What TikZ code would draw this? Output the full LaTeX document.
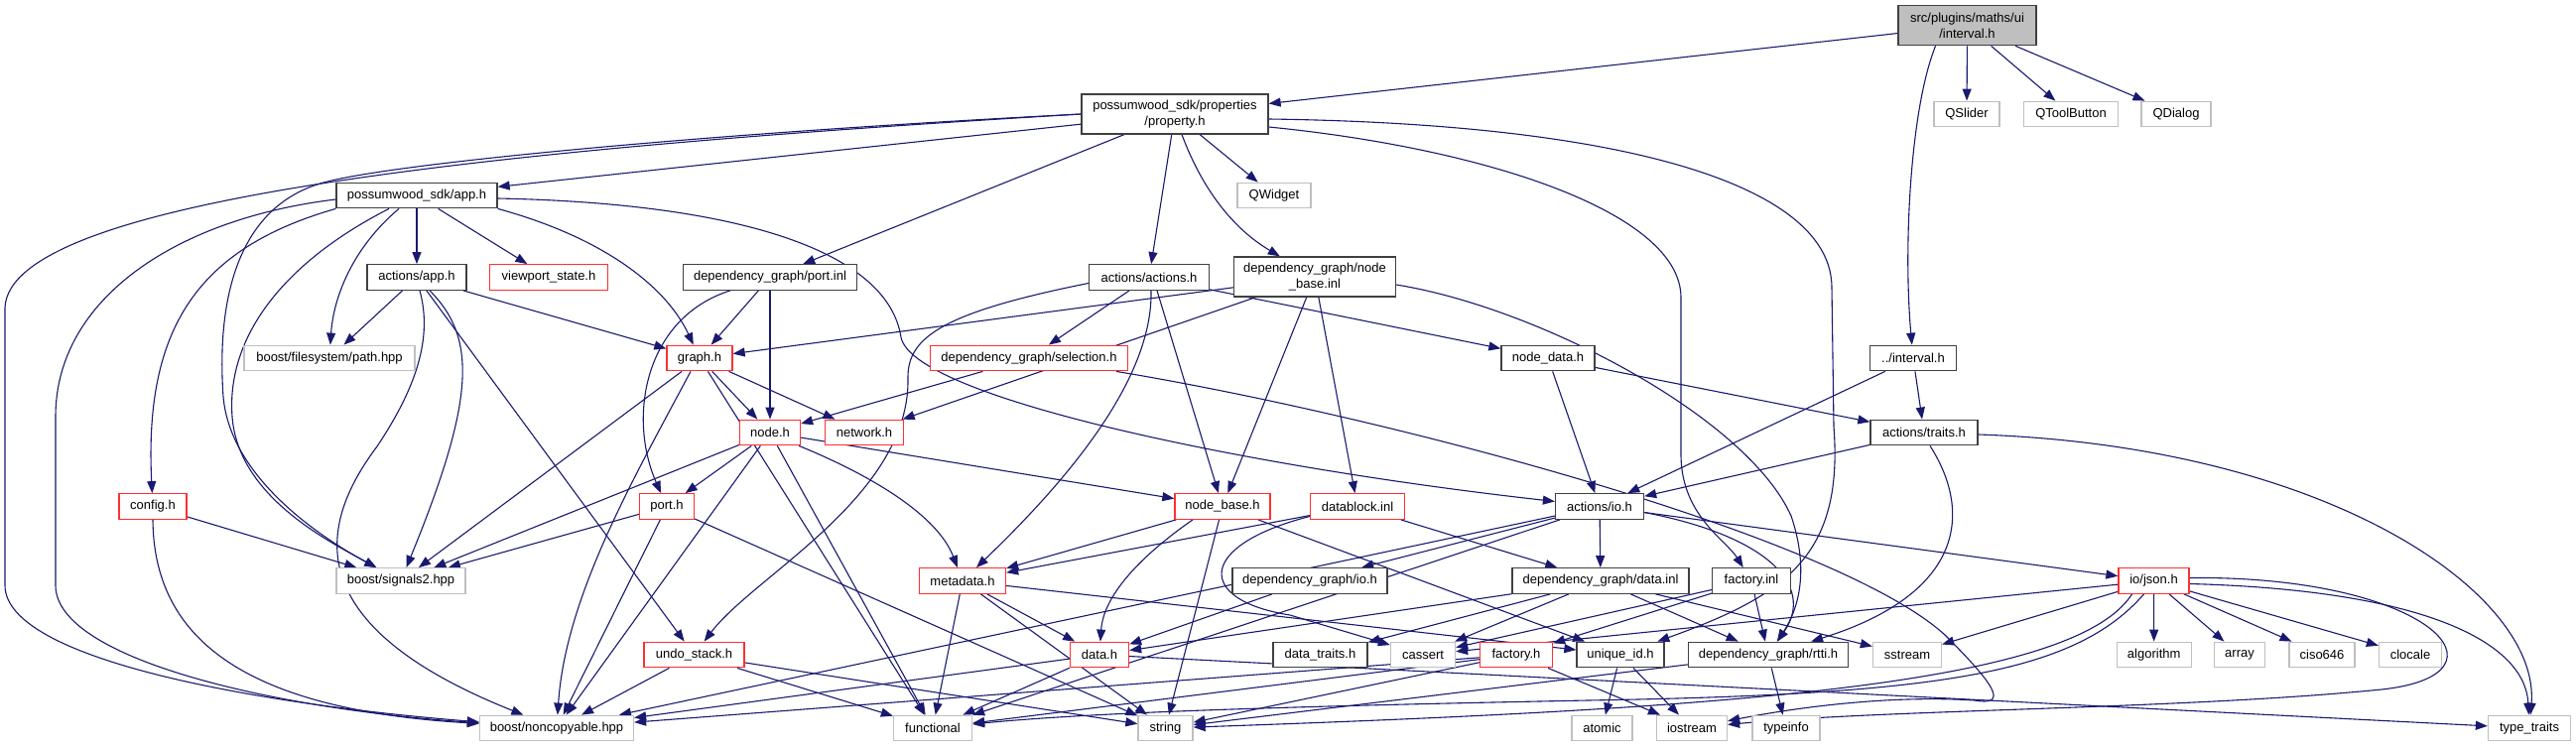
\documentclass[tikz,border=0pt]{standalone}
\usepackage{fontspec}
\setmainfont{Liberation Sans}
\usetikzlibrary{arrows.meta}
\definecolor{edgec}{HTML}{191970}
\definecolor{blk}{HTML}{404040}
\definecolor{redb}{HTML}{FF3030}
\definecolor{gryb}{HTML}{BFBFBF}
\pgfdeclarelayer{edges}
\pgfsetlayers{edges,main}
\tikzset{
  box/.style={draw, line width=1.3pt, inner sep=0pt, align=center, fill=white,
    font=\fontsize{13}{15.5}\selectfont, minimum height=25.5pt},
  blkbox/.style={box, draw=blk},
  redbox/.style={box, draw=redb},
  grybox/.style={box, draw=gryb},
  e/.style={draw=edgec, line width=1.1pt, -{Triangle[length=12pt,width=9pt]}}
}
\begin{document}
\begin{tikzpicture}[x=1pt,y=-1pt]
\useasboundingbox (0,0) rectangle (2596,753);
% nodes
\node[blkbox, fill=gryb, minimum width=139pt, minimum height=40pt] (main) at (1982.5,25.7) {src/plugins/maths/ui\\/interval.h};
\node[blkbox, minimum width=188pt, minimum height=40pt] (prop) at (1184,115) {possumwood\_sdk/properties\\/property.h};
\node[grybox, minimum width=66pt] (qslider) at (1982,115) {QSlider};
\node[grybox, minimum width=95pt] (qtool) at (2087,115) {QToolButton};
\node[grybox, minimum width=70pt] (qdialog) at (2193,115) {QDialog};
\node[blkbox, minimum width=162pt] (app) at (420,197) {possumwood\_sdk/app.h};
\node[grybox, minimum width=74pt] (qwidget) at (1284,197) {QWidget};
\node[blkbox, minimum width=100pt] (aapp) at (420,279.5) {actions/app.h};
\node[redbox, minimum width=119pt] (viewport) at (553,279.5) {viewport\_state.h};
\node[blkbox, minimum width=175pt] (portinl) at (776,279.5) {dependency\_graph/port.inl};
\node[blkbox, minimum width=121pt] (actions) at (1158,279.5) {actions/actions.h};
\node[blkbox, minimum width=163pt, minimum height=40pt] (nbinl) at (1325,279) {dependency\_graph/node\\\_base.inl};
\node[grybox, minimum width=172pt] (path) at (332,361) {boost/filesystem/path.hpp};
\node[redbox, minimum width=66pt] (graph) at (705,361) {graph.h};
\node[redbox, minimum width=199pt] (sel) at (1037,361) {dependency\_graph/selection.h};
\node[blkbox, minimum width=94pt] (nodedata) at (1560,361) {node\_data.h};
\node[blkbox, minimum width=87pt] (interval2) at (1928,361) {../interval.h};
\node[redbox, minimum width=61pt] (node) at (776,436) {node.h};
\node[redbox, minimum width=79pt] (network) at (871,436) {network.h};
\node[blkbox, minimum width=108pt] (traits) at (1939,436) {actions/traits.h};
\node[redbox, minimum width=68pt] (config) at (154,510.5) {config.h};
\node[redbox, minimum width=55pt] (porth) at (672,510.5) {port.h};
\node[redbox, minimum width=96pt] (nbh) at (1232,510.5) {node\_base.h};
\node[redbox, minimum width=95pt] (datablock) at (1368,510.5) {datablock.inl};
\node[blkbox, minimum width=89pt] (io) at (1612,510.5) {actions/io.h};
\node[grybox, minimum width=130pt] (signals2) at (404,585.5) {boost/signals2.hpp};
\node[redbox, minimum width=87pt] (meta) at (970,585.5) {metadata.h};
\node[blkbox, minimum width=156pt] (dgioh) at (1320,585.5) {dependency\_graph/io.h};
\node[blkbox, minimum width=178pt] (datainl) at (1613,585.5) {dependency\_graph/data.inl};
\node[blkbox, minimum width=79pt] (finl) at (1765,585.5) {factory.inl};
\node[redbox, minimum width=71pt] (json) at (2170.5,585.5) {io/json.h};
\node[redbox, minimum width=101pt] (undo) at (699.5,660) {undo\_stack.h};
\node[redbox, minimum width=59pt] (datah) at (1108,660) {data.h};
\node[blkbox, minimum width=95pt] (dtraits) at (1330.5,660) {data\_traits.h};
\node[grybox, minimum width=65pt] (cassert) at (1434,660) {cassert};
\node[redbox, minimum width=73pt] (facth) at (1528,660) {factory.h};
\node[blkbox, minimum width=88pt] (uid) at (1633,660) {unique\_id.h};
\node[blkbox, minimum width=161pt] (rtti) at (1782,660) {dependency\_graph/rtti.h};
\node[grybox, minimum width=69pt] (sstream) at (1922,660) {sstream};
\node[grybox, minimum width=75pt] (algorithm) at (2170.7,660) {algorithm};
\node[grybox, minimum width=51pt] (array) at (2257,660) {array};
\node[grybox, minimum width=66pt] (ciso) at (2340,660) {ciso646};
\node[grybox, minimum width=63pt] (clocale) at (2429,660) {clocale};
\node[grybox, minimum width=155pt] (noncop) at (561,734) {boost/noncopyable.hpp};
\node[grybox, minimum width=79pt] (functional) at (940,734) {functional};
\node[grybox, minimum width=55pt] (string) at (1174.5,734) {string};
\node[grybox, minimum width=61pt] (atomic) at (1614.5,734) {atomic};
\node[grybox, minimum width=71pt] (iostream) at (1705,734) {iostream};
\node[grybox, minimum width=68pt] (typeinfo) at (1800,734) {typeinfo};
\node[grybox, minimum width=83pt] (ttraits) at (2549,734) {type\_traits};
\begin{pgfonlayer}{edges}
\fill[white] (0,0) rectangle (2596,753);
% main
\draw[e] (main) -- (prop);
\draw[e] (main) -- (qslider);
\draw[e] (main) -- (qtool);
\draw[e] (main) -- (qdialog);
\draw[e] ([xshift=-32]main.south) .. controls (1925,110) and (1918,250) .. (interval2);
% property
\draw[e] (prop) -- (app);
\draw[e] (prop) -- (qwidget);
\draw[e] (prop) -- (portinl);
\draw[e] (prop) -- (actions);
\draw[e] ([xshift=7]prop.south) .. controls (1215,200) and (1250,235) .. (nbinl);
\draw[e] (prop.west) .. controls (700,135) and (400,165) .. (330,183) .. controls (240,205) and (218,300) .. (225,400) .. controls (232,480) and (320,540) .. (signals2);
\draw[e] (prop.west) .. controls (500,150) and (10,200) .. (5,310) -- (5,590) .. controls (5,665) and (260,710) .. (noncop);
\draw[e] ([yshift=-13]prop.east) .. controls (1500,150) and (1694,215) .. (1694,300) -- (1694,460) .. controls (1695,520) and (1740,545) .. (finl);
\draw[e] ([yshift=-5]prop.east) .. controls (1650,125) and (1846,190) .. (1846,290) -- (1848,430) .. controls (1858,560) and (1800,600) .. (uid);
% app
\draw[e] (app) -- (aapp);
\draw[e] (app) -- (viewport);
\draw[e] ([xshift=-18]app.south) .. controls (355,250) and (336,300) .. (path);
\draw[e] ([xshift=-28]app.south) .. controls (285,265) and (228,340) .. (234,420) .. controls (240,500) and (330,545) .. (signals2);
\draw[e] ([yshift=-4]app.west) .. controls (180,220) and (56,300) .. (56,420) -- (56,590) .. controls (56,665) and (280,715) .. (noncop);
\draw[e] (app.south west) .. controls (200,250) and (145,330) .. (config);
\draw[e] (app.south east) .. controls (610,240) and (672,290) .. (graph);
\draw[e] ([yshift=-3]app.east) .. controls (750,205) and (895,255) .. (908,340) .. controls (920,400) and (1250,470) .. (io);
% actions/app
\draw[e] (aapp) -- (path);
\draw[e] ([xshift=3]aapp.south) .. controls (436,340) and (420,390) .. (380,450) .. controls (320,530) and (300,630) .. (noncop);
\draw[e] ([xshift=13]aapp.south) .. controls (480,340) and (480,400) .. (signals2);
\draw[e] (aapp) -- (undo);
\draw[e] (aapp) -- (graph);
% port.inl
\draw[e] (portinl) -- (graph);
\draw[e] (portinl) -- (node);
\draw[e] ([xshift=-40]portinl.south) .. controls (650,320) and (632,420) .. (porth);
% actions
\draw[e] ([yshift=-6]actions.west) .. controls (950,315) and (915,340) .. (915,380) .. controls (918,500) and (760,580) .. (undo);
\draw[e] (actions) -- (sel);
\draw[e] ([xshift=2]actions.south) .. controls (1162,380) and (1080,480) .. (meta);
\draw[e] ([xshift=8]actions.south) -- (nbh);
\draw[e] (actions) -- (nodedata);
% node_base.inl
\draw[e] (nbinl) -- (graph);
\draw[e] (nbinl) -- (network);
\draw[e] (nbinl) -- (nbh);
\draw[e] (nbinl) -- (datablock);
\draw[e] ([yshift=-8]nbinl.east) .. controls (1550,310) and (1760,420) .. (1805,520) .. controls (1822,570) and (1815,610) .. (rtti);
% graph
\draw[e] (graph) -- (node);
\draw[e] (graph) -- (network);
\draw[e] (graph) -- (functional);
\draw[e] (graph) -- (signals2);
\draw[e] ([xshift=-9]graph.south) .. controls (640,480) and (570,600) .. (noncop);
% node
\draw[e] (node) -- (porth);
\draw[e] (node) -- (signals2);
\draw[e] (node) -- (noncop);
\draw[e] (node) -- (functional);
\draw[e] ([xshift=-2]node.south east) .. controls (880,480) and (945,520) .. (meta);
\draw[e] (node) -- (nbh);
% selection
\draw[e] (sel) -- (node);
\draw[e] ([xshift=88]sel.south) .. controls (1400,420) and (1850,540) .. (1960,640) .. controls (2010,690) and (2025,712) .. (1990,706) .. controls (1900,700) and (1800,715) .. (iostream);
% port.h
\draw[e] (porth) -- (signals2);
\draw[e] (porth) -- (noncop);
\draw[e] (porth) -- (string);
% node_data, ../interval.h
\draw[e] (nodedata) -- (io);
\draw[e] (nodedata) -- (traits);
\draw[e] (interval2) -- (io);
\draw[e] (interval2) -- (traits);
% traits
\draw[e] (traits) -- (io);
\draw[e] ([xshift=6]traits.south) .. controls (1990,520) and (1975,600) .. (rtti);
\draw[e] ([yshift=-2]traits.east) .. controls (2350,450) and (2560,600) .. (ttraits);
% node_base.h
\draw[e] (nbh) -- (meta);
\draw[e] ([xshift=-30]nbh.south) .. controls (1150,560) and (1112,600) .. (datah);
\draw[e] (nbh) -- (string);
\draw[e] (nbh) -- (uid);
% datablock
\draw[e] (datablock) -- (meta);
\draw[e] (datablock) -- (datainl);
\draw[e] ([yshift=-10]datablock.west) .. controls (1205,550) and (1205,605) .. (1300,620) -- (cassert);
% metadata
\draw[e] (meta) -- (functional);
\draw[e] (meta) -- (string);
\draw[e] (meta) -- (datah);
\draw[e] (meta) -- (uid);
% dg/io.h
\draw[e] (dgioh) -- (datah);
% io
\draw[e] (io) -- (datainl);
\draw[e] (io) -- (dgioh);
\draw[e] (io) -- (json);
\draw[e] ([yshift=-6]io.east) .. controls (1780,540) and (1830,590) .. (rtti);
\draw[e] (io) -- (noncop);
\draw[e] (io) -- (functional);
% data.inl
\draw[e] (datainl) -- (datah);
\draw[e] (datainl) -- (dtraits);
\draw[e] (datainl) -- (cassert);
\draw[e] (datainl) -- (rtti);
\draw[e] (datainl) -- (sstream);
% factory.inl
\draw[e] (finl) -- (cassert);
\draw[e] (finl) -- (facth);
\draw[e] (finl) -- (rtti);
% factory.h
\draw[e] (facth) -- (noncop);
\draw[e] (facth) -- (functional);
\draw[e] (facth) -- (string);
\draw[e] (facth) -- (iostream);
% data.h
\draw[e] (datah) -- (noncop);
\draw[e] (datah) -- (functional);
\draw[e] (datah) -- (ttraits);
% undo_stack
\draw[e] (undo) -- (noncop);
\draw[e] (undo) -- (functional);
\draw[e] (undo) -- (string);
% config
\draw[e] (config) -- (signals2);
\draw[e] (config.south) .. controls (155,640) and (240,715) .. (noncop);
% rtti
\draw[e] (rtti) -- (typeinfo);
\draw[e] (rtti) -- (string);
% unique_id
\draw[e] (uid) -- (atomic);
\draw[e] (uid) -- (iostream);
% json
\draw[e] (json) -- (algorithm);
\draw[e] (json) -- (array);
\draw[e] (json) -- (ciso);
\draw[e] (json) -- (clocale);
\draw[e] (json) -- (sstream);
\draw[e] (json) -- (cassert);
\draw[e] ([yshift=-3]json.east) .. controls (2450,595) and (2545,650) .. (ttraits);
\draw[e] ([yshift=3]json.east) .. controls (2450,580) and (2540,680) .. (2400,695) .. controls (2200,715) and (1900,715) .. (iostream);
\draw[e] ([xshift=-22]json.south) .. controls (2090,690) and (1750,714) .. (string);
\draw[e] ([xshift=-10]json.south) .. controls (2090,680) and (1950,700) .. (1600,706) .. controls (1300,712) and (1100,718) .. (functional);
\end{pgfonlayer}
\end{tikzpicture}
\end{document}
